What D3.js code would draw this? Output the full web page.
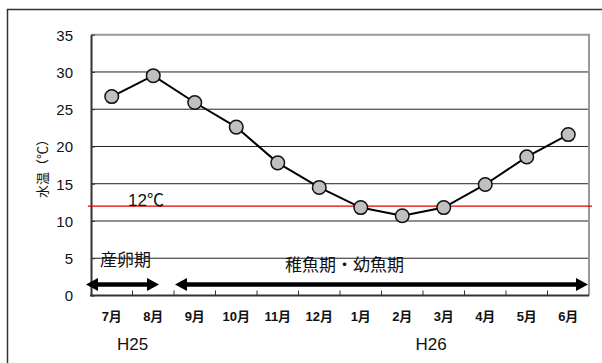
<!DOCTYPE html>
<html>
<head>
<meta charset="utf-8">
<script src="https://cdn.jsdelivr.net/npm/d3@7"></script>
<style>
  html, body { margin: 0; padding: 0; background: #fff; }
  svg { display: block; }
  text { font-family: "Liberation Sans", "Noto Sans CJK JP", sans-serif; fill: #111; }
</style>
</head>
<body>
<svg id="chart" width="602" height="363"></svg>
<script>
// Monthly water temperature, Jul (H25) to Jun (H26)
const months = ["7月", "8月", "9月", "10月", "11月", "12月", "1月", "2月", "3月", "4月", "5月", "6月"];
const temps = [26.7, 29.5, 25.9, 22.6, 17.8, 14.5, 11.8, 10.7, 11.8, 14.9, 18.6, 21.6];
const yTicks = [0, 5, 10, 15, 20, 25, 30, 35];
const threshold = 12;
const thresholdLabel = "12℃";
const yLabel = "水温（℃）";
const periods = ["産卵期", "稚魚期・幼魚期"];
const years = ["H25", "H26"];

const svg = d3.select("#chart");

// Outer frame
svg.append("rect")
  .attr("x", 7.5).attr("y", 9.5)
  .attr("width", 620).attr("height", 380)
  .attr("fill", "none").attr("stroke", "#333").attr("stroke-width", 1.5);

const x = d3.scaleBand().domain(months).range([91, 589]);
const y = d3.scaleLinear().domain([0, 35]).range([295.5, 34.7]);
const left = x.range()[0], right = x.range()[1];

// Horizontal gridlines
svg.append("g").selectAll("line")
  .data(yTicks.filter(v => v > 0 && v < 35))
  .join("line")
  .attr("x1", left).attr("x2", right)
  .attr("y1", d => y(d)).attr("y2", d => y(d))
  .attr("stroke", "#222").attr("stroke-width", 1);

// Plot frame: top and right edges
svg.append("path")
  .attr("d", `M${left},${y(35)}H${right}V${y(0)}`)
  .attr("fill", "none").attr("stroke", "#999").attr("stroke-width", 2);

// Y axis
const yAxis = svg.append("g")
  .attr("transform", `translate(${left},0)`)
  .call(d3.axisLeft(y).tickValues(yTicks).tickSizeInner(-4).tickSizeOuter(0).tickPadding(18));
yAxis.select(".domain").attr("stroke", "#333").attr("stroke-width", 2);
yAxis.selectAll(".tick line").attr("stroke", "#333");
yAxis.selectAll(".tick text")
  .attr("font-size", 15).attr("fill", "#111")
  .attr("font-family", "Liberation Sans, sans-serif")
  .attr("dy", "0.36em");

// X axis: labels at category centres, ticks at category boundaries
const xAxis = svg.append("g")
  .attr("transform", `translate(0,${y(0)})`)
  .call(d3.axisBottom(x).tickSize(0).tickPadding(0));
xAxis.select(".domain").remove();
xAxis.selectAll(".tick text")
  .attr("y", 25.5).attr("dy", 0)
  .attr("font-size", 13).attr("font-weight", "bold")
  .attr("font-family", "Liberation Sans, Noto Sans CJK JP, sans-serif");
xAxis.append("g").selectAll("line")
  .data(months.slice(1))
  .join("line")
  .attr("x1", d => x(d)).attr("x2", d => x(d))
  .attr("y1", 0).attr("y2", -5)
  .attr("stroke", "#333").attr("stroke-width", 1);
svg.append("line")
  .attr("x1", left - 1).attr("x2", right)
  .attr("y1", y(0)).attr("y2", y(0))
  .attr("stroke", "#333").attr("stroke-width", 2);

// Year labels
svg.append("text")
  .attr("x", x(months[1])).attr("y", 350)
  .attr("text-anchor", "middle").attr("font-size", 17)
  .text(years[0]);
svg.append("text")
  .attr("x", x(months[8]) + 8).attr("y", 350)
  .attr("text-anchor", "middle").attr("font-size", 17)
  .text(years[1]);

// Y axis title
svg.append("text")
  .attr("transform", `translate(42.5,${165.5}) rotate(-90)`)
  .attr("text-anchor", "middle").attr("dominant-baseline", "central")
  .attr("font-family", "Noto Sans CJK JP, sans-serif")
  .attr("font-size", 13)
  .text(yLabel);

// 12℃ reference line
svg.append("line")
  .attr("x1", left - 3).attr("x2", right + 3)
  .attr("y1", y(threshold)).attr("y2", y(threshold))
  .attr("stroke", "#e00000").attr("stroke-width", 1.2);
svg.append("text")
  .attr("x", 128).attr("y", y(threshold) - 0.5)
  .attr("font-size", 17)
  .text(thresholdLabel);

// Temperature line and markers
const cx = d => x(d) + x.bandwidth() / 2;
const series = months.map((m, i) => ({ m, v: temps[i] }));
svg.append("path")
  .datum(series)
  .attr("d", d3.line().x(d => cx(d.m)).y(d => y(d.v)))
  .attr("fill", "none").attr("stroke", "#000").attr("stroke-width", 2);
svg.append("g").selectAll("circle")
  .data(series)
  .join("circle")
  .attr("cx", d => cx(d.m)).attr("cy", d => y(d.v))
  .attr("r", 6.8)
  .attr("fill", "#c0c0c0").attr("stroke", "#111").attr("stroke-width", 1.5);

// Period arrows
function arrow(x1, x2, yy, startHead) {
  const hl = 12, hw = 6.5, sw = 2;
  const g = svg.append("g");
  g.append("line")
    .attr("x1", startHead ? x1 + hl - 1 : x1).attr("x2", x2 - hl + 1)
    .attr("y1", yy).attr("y2", yy)
    .attr("stroke", "#000").attr("stroke-width", sw * 2.2);
  g.append("path")
    .attr("d", `M${x2},${yy}L${x2 - hl},${yy - hw}L${x2 - hl},${yy + hw}Z`)
    .attr("fill", "#000");
  if (startHead) {
    g.append("path")
      .attr("d", `M${x1},${yy}L${x1 + hl},${yy - hw}L${x1 + hl},${yy + hw}Z`)
      .attr("fill", "#000");
  }
}
const arrowY = 284.5;
arrow(left - 5, x(months[1]) + x.bandwidth() - 15, arrowY, true);
arrow(x(months[2]) + 1, right - 1, arrowY, true);

svg.append("text")
  .attr("x", 100).attr("y", 265.5)
  .attr("font-family", "Noto Sans CJK JP, sans-serif")
  .attr("font-size", 17)
  .text(periods[0]);
svg.append("text")
  .attr("x", 344.5).attr("y", 270.5)
  .attr("text-anchor", "middle")
  .attr("font-family", "Noto Sans CJK JP, sans-serif")
  .attr("font-size", 17)
  .text(periods[1]);
</script>
</body>
</html>
